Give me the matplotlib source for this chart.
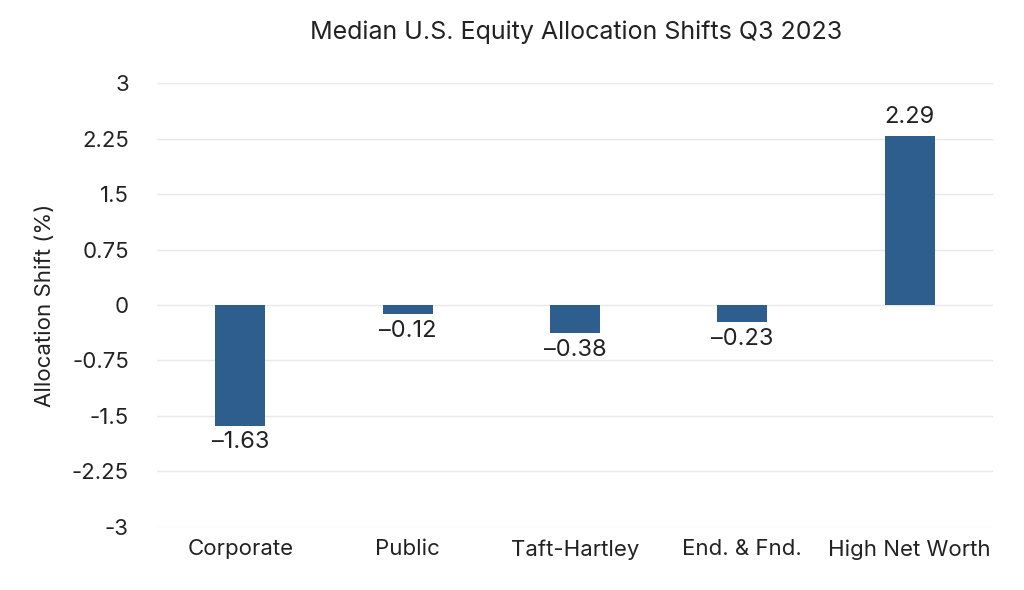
import matplotlib
matplotlib.use("Agg")
import matplotlib.pyplot as plt

plt.rcParams['font.family'] = ['Inter', 'DejaVu Sans']

categories = ["Corporate", "Public", "Taft-Hartley", "End. & Fnd.", "High Net Worth"]
shifts = [-1.63, -0.12, -0.38, -0.23, 2.29]
yticks = [3, 2.25, 1.5, 0.75, 0, -0.75, -1.5, -2.25, -3]
ytick_labels = ["3", "2.25", "1.5", "0.75", "0", "-0.75", "-1.5", "-2.25", "-3"]

fig = plt.figure(figsize=(10.24, 5.9), dpi=100)
ax = fig.add_axes([0.153, 0.107, 0.817, 0.752])

x = range(len(categories))
ax.bar(x, shifts, width=0.3, color="#2E5E8E", zorder=3)

# value labels: below negative bars, above positive ones
for i, v in enumerate(shifts):
    if v < 0:
        ax.text(i, v - 0.08, f"{v:.2f}".replace("-", "\u2013"), ha="center", va="top",
                fontsize=17, color="#222222")
    else:
        ax.text(i, v + 0.1, f"{v:.2f}", ha="center", va="bottom",
                fontsize=17, color="#222222")

ax.set_xlim(-0.5, 4.5)
ax.set_ylim(-3, 3)
ax.set_yticks(yticks)
ax.set_yticklabels(ytick_labels)
ax.set_xticks(list(x))
ax.set_xticklabels(categories)
ax.tick_params(axis="both", length=0, labelsize=16, colors="#222222")
ax.tick_params(axis="y", pad=20)
ax.tick_params(axis="x", pad=9)
ax.grid(axis="y", color="#e8e8e8", linewidth=1, zorder=0)
for s in ax.spines.values():
    s.set_visible(False)

ax.set_ylabel("Allocation Shift (%)", fontsize=16, color="#222222", labelpad=12)
fig.suptitle("Median U.S. Equity Allocation Shifts Q3 2023", x=0.563, y=0.965, fontsize=18,
             color="#222222")

fig.savefig("out.png", dpi=100, facecolor="white")
